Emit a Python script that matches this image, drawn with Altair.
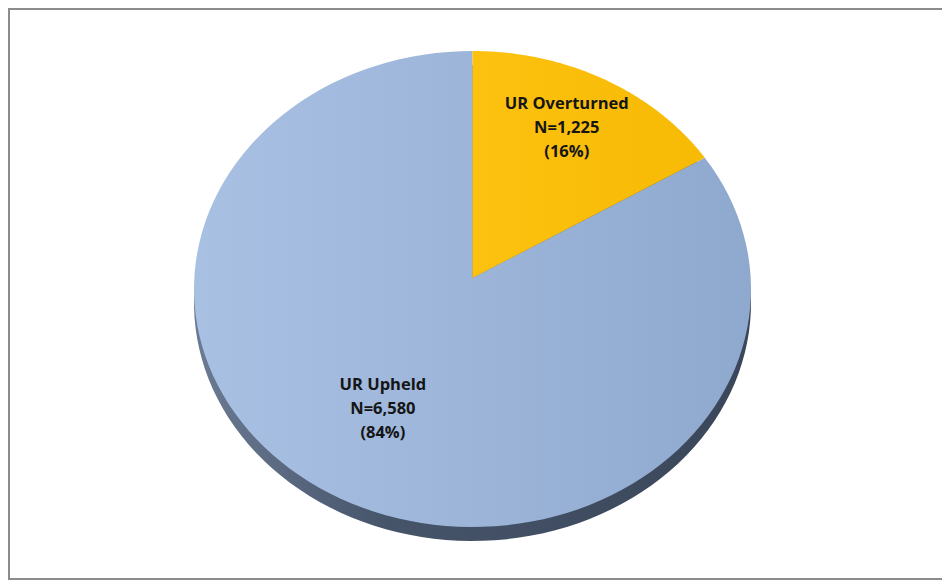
import altair as alt
import pandas as pd

categories = ["UR Overturned", "UR Upheld"]
counts = [1225, 6580]
n_labels = ["N=1,225", "N=6,580"]
pct_labels = ["(16%)", "(84%)"]

df = pd.DataFrame({
    "cat": categories,
    "n": counts,
    "order": list(range(len(categories))),
    "label": [f"{c}\n{n}\n{p}" for c, n, p in zip(categories, n_labels, pct_labels)],
})

W, H = 934, 572
xs = alt.Scale(domain=[-1, 1], range=[186, 743])
ys = alt.Scale(domain=[-1, 1], range=[519, 43])

base = (
    alt.Chart(df)
    .transform_joinaggregate(total="sum(n)")
    .transform_window(cum="sum(n)", sort=[alt.SortField("order")])
    .transform_calculate(
        start="(datum.cum - datum.n) / datum.total",
        end="datum.cum / datum.total",
    )
)

poly = (
    base.transform_calculate(k="sequence(0, 122)")
    .transform_flatten(["k"])
    .transform_calculate(
        frac="datum.start + (datum.end - datum.start) * (datum.k - 1) / 120",
        px="datum.k == 0 ? 0 : sin(2 * PI * datum.frac)",
        py="datum.k == 0 ? 0.046 : cos(2 * PI * datum.frac)",
    )
)

enc = dict(
    x=alt.X("px:Q", scale=xs, axis=None),
    y=alt.Y("py:Q", scale=ys, axis=None),
    order=alt.Order("k:Q"),
    detail=alt.Detail("cat:N"),
)

def grad(stops):
    return alt.Gradient(
        gradient="linear", x1=0, y1=0, x2=1, y2=0,
        stops=[alt.GradientStop(offset=o, color=c) for o, c in stops],
    )

rim = poly.mark_line(
    fill=grad([(0, "#6B7B93"), (0.35, "#46546A"), (1, "#3A4659")]),
    strokeOpacity=0, yOffset=14, interpolate="linear",
).encode(**enc)

upheld = poly.transform_filter(alt.datum.cat == "UR Upheld").mark_line(
    fill=grad([(0, "#A8C1E3"), (1, "#8FA8CE")]),
    strokeOpacity=0,
).encode(**enc)

overturned = poly.transform_filter(alt.datum.cat == "UR Overturned").mark_line(
    fill=grad([(0, "#FCC20F"), (1, "#F7BA05")]),
    strokeOpacity=0,
).encode(**enc)

labels = (
    base.transform_calculate(
        mid="(datum.start + datum.end) / 2",
        rx="datum.cat == 'UR Overturned' ? 0.715 : 0.68",
        ry="datum.cat == 'UR Overturned' ? 0.77 : 0.57",
        lx="sin(2 * PI * datum.mid) * datum.rx",
        ly="cos(2 * PI * datum.mid) * datum.ry",
    )
    .mark_text(
        lineBreak="\n", font="Open Sans", fontWeight="bold", fontSize=16.5,
        lineHeight=24, color="#151515", baseline="middle", align="center", dy=-24,
    )
    .encode(
        x=alt.X("lx:Q", scale=xs, axis=None),
        y=alt.Y("ly:Q", scale=ys, axis=None),
        text="label:N",
    )
)

frame_src = alt.Chart(pd.DataFrame({"f": [0]}))
frame_style = dict(color="#8C8C8C", strokeWidth=2)
frame_left = frame_src.mark_rule(**frame_style).encode(
    x=alt.value(1), y=alt.value(0), y2=alt.value(H))
frame_top = frame_src.mark_rule(**frame_style).encode(
    x=alt.value(0), x2=alt.value(W), y=alt.value(1))
frame_bottom = frame_src.mark_rule(**frame_style).encode(
    x=alt.value(0), x2=alt.value(W), y=alt.value(H - 1))

chart = (
    alt.layer(rim, upheld, overturned, labels, frame_left, frame_top, frame_bottom)
    .properties(width=W, height=H, padding=0, autosize=alt.AutoSizeParams(type="none"))
    .configure_view(stroke="transparent")
)

chart.save("out.html", embed_options={"renderer": "svg", "actions": False})
